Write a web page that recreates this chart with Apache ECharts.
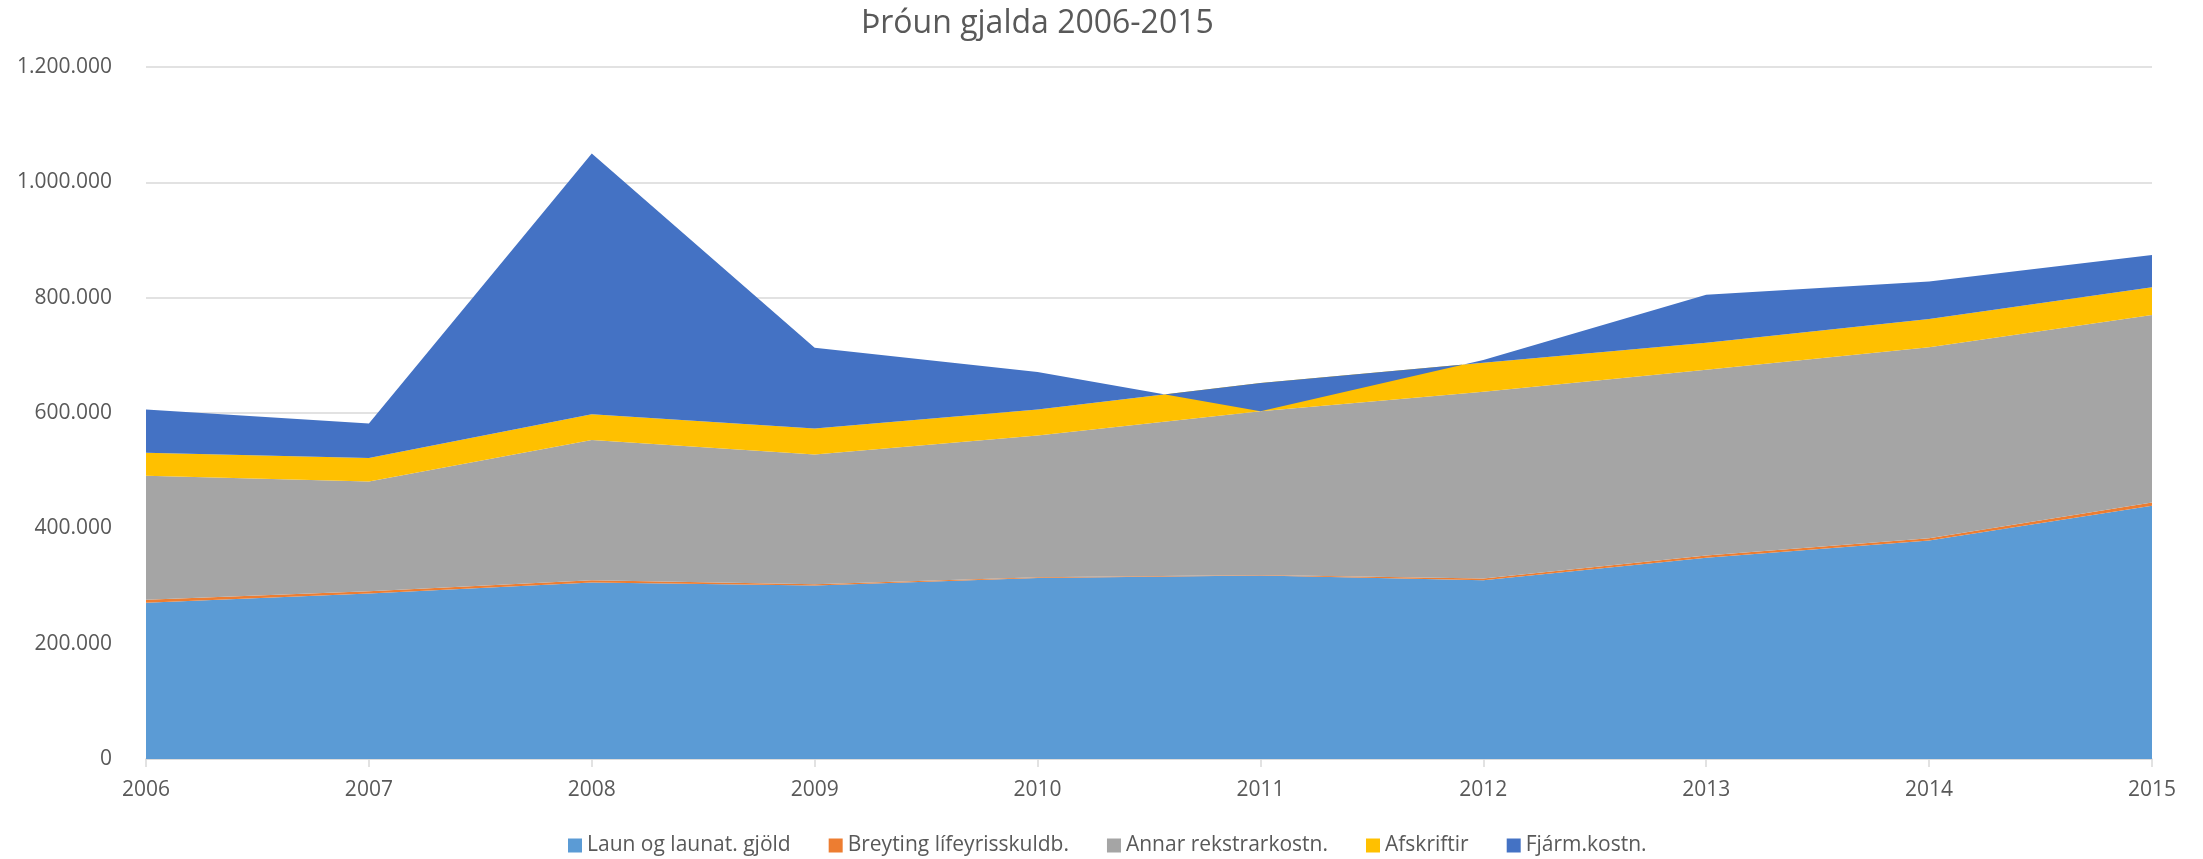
<!DOCTYPE html>
<html>
<head>
<meta charset="utf-8">
<script src="https://cdn.jsdelivr.net/npm/echarts@6/dist/echarts.min.js"></script>
<style>
html,body{margin:0;padding:0;background:#fff;}
#chart{width:2203px;height:859px;}
</style>
</head>
<body>
<div id="chart"></div>
<script>
const titleText = 'Þróun gjalda 2006-2015';
const years = ['2006','2007','2008','2009','2010','2011','2012','2013','2014','2015'];
const seriesNames = ['Laun og launat. gjöld','Breyting lífeyrisskuldb.','Annar rekstrarkostn.','Afskriftir','Fjárm.kostn.'];
const laun       = [271000, 287000, 306000, 301000, 314000, 318000, 310000, 349000, 379000, 439000];
const breyting   = [5000, 4000, 4000, 2000, 1000, 1000, 3000, 4000, 4000, 6000];
const annar      = [215000, 190000, 243000, 225000, 246000, 284000, 324000, 322000, 331000, 325000];
const afskriftir = [40000, 41000, 45000, 45000, 45000, 49000, 50000, 47000, 49000, 48000];
const fjarm      = [75000, 60000, 452000, 140000, 65000, -49000, 5000, 83000, 65000, 56000];
const yMin = 0, yMax = 1200000, yStep = 200000;

const colors = ['#5B9BD5','#ED7D31','#A5A5A5','#FFC000','#4472C4'];
const values = [laun, breyting, annar, afskriftir, fjarm];
const FONT = '"Open Sans", "Noto Sans", sans-serif';

function fmt(v){
  return String(Math.round(v)).replace(/\B(?=(\d{3})+(?!\d))/g, '.');
}

const chart = echarts.init(document.getElementById('chart'), null, {renderer:'canvas'});
chart.setOption({
  animation: false,
  backgroundColor: '#ffffff',
  color: colors,
  title: {
    text: titleText,
    left: 856,
    top: 3,
    textStyle: {fontFamily: FONT, fontSize: 32, fontWeight: 'normal', color: '#595959'}
  },
  legend: {
    data: seriesNames,
    left: 563,
    top: 830,
    icon: 'rect',
    itemWidth: 14,
    itemHeight: 14,
    itemGap: 38,
    textStyle: {fontFamily: FONT, fontSize: 21, color: '#595959'}
  },
  grid: {left: 146, right: 51, top: 67, bottom: 100, containLabel: false},
  xAxis: {
    type: 'category',
    data: years,
    boundaryGap: false,
    axisLine: {show: true, lineStyle: {color: '#D9D9D9', width: 1.5}},
    axisTick: {show: true, length: 8, alignWithLabel: true, lineStyle: {color: '#D9D9D9', width: 1.5}},
    axisLabel: {fontFamily: FONT, fontSize: 21, color: '#595959', margin: 21},
    splitLine: {show: false}
  },
  yAxis: {
    type: 'value',
    min: yMin,
    max: yMax,
    interval: yStep,
    axisLine: {show: false},
    axisTick: {show: false},
    axisLabel: {fontFamily: FONT, fontSize: 21, color: '#595959', margin: 34, formatter: fmt},
    splitLine: {show: true, lineStyle: {color: '#D9D9D9', width: 1.5}}
  },
  series: seriesNames.map((name, i) => ({
    name: name,
    type: 'line',
    stack: 'total',
    stackStrategy: 'all',
    data: values[i],
    symbol: 'none',
    showSymbol: false,
    lineStyle: {width: 0, color: colors[i]},
    itemStyle: {color: colors[i]},
    areaStyle: {color: colors[i], opacity: 1},
    emphasis: {disabled: true}
  }))
});
</script>
</body>
</html>
